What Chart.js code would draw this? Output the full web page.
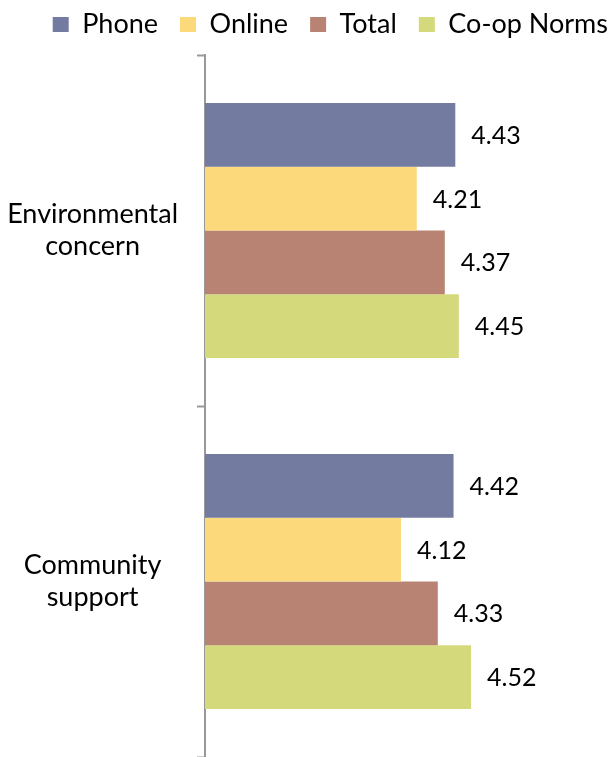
<!DOCTYPE html>
<html>
<head>
<meta charset="utf-8">
<script src="https://cdn.jsdelivr.net/npm/chart.js@4"></script>
<style>
  html, body { margin: 0; padding: 0; background: #fff; overflow: hidden; }
  #wrap { width: 613px; height: 757px; }
</style>
</head>
<body>
<div id="wrap"><canvas id="myChart"></canvas></div>
<script>
const categories = [['Environmental', 'concern'], ['Community', 'support']];
const seriesNames = ['Phone', 'Online', 'Total', 'Co-op Norms'];
const phone = [4.43, 4.42];
const online = [4.21, 4.12];
const total = [4.37, 4.33];
const coopNorms = [4.45, 4.52];
const colors = ['#737ba1', '#fcd97b', '#b88372', '#d4da7b'];

const fontFamily = '"Gill Sans", "Gill Sans MT", Lato, sans-serif';

// writes the value just past the end of each bar
const valueLabels = {
    id: 'valueLabels',
    afterDatasetsDraw(chart) {
        const ctx = chart.ctx;
        ctx.save();
        ctx.font = '25px ' + fontFamily;
        ctx.fillStyle = '#000';
        ctx.textBaseline = 'middle';
        ctx.textAlign = 'left';
        chart.data.datasets.forEach((ds, i) => {
            chart.getDatasetMeta(i).data.forEach((bar, j) => {
                ctx.fillText(ds.data[j].toFixed(2), bar.x + 16, bar.y + 1);
            });
        });
        ctx.restore();
    }
};

// nudge the legend closer to the top edge
const legendShift = {
    id: 'legendShift',
    afterLayout(chart) {
        chart.legend.top -= 7;
        chart.legend.bottom -= 7;
    }
};

const ctx = document.getElementById('myChart');
new Chart(ctx, {
    type: 'bar',
    data: {
        labels: categories,
        datasets: [phone, online, total, coopNorms].map((d, i) => ({
            label: seriesNames[i],
            data: d,
            backgroundColor: colors[i],
            borderWidth: 0
        }))
    },
    options: {
        indexAxis: 'y',
        responsive: true,
        maintainAspectRatio: false,
        animation: false,
        categoryPercentage: 0.727,
        barPercentage: 1,
        layout: { padding: { top: -12, right: -17, bottom: -3, left: 0 } },
        plugins: {
            legend: {
                position: 'top',
                align: 'end',
                labels: {
                    boxWidth: 16,
                    boxHeight: 15,
                    padding: 22,
                    color: '#000',
                    font: { family: fontFamily, size: 27 }
                }
            },
            tooltip: { enabled: false }
        },
        scales: {
            x: {
                display: false,
                min: 3,
                max: 5.331
            },
            y: {
                afterFit(scale) {
                    scale.width = 205;
                    scale.paddingTop = 55;
                    scale.paddingBottom = 0;
                },
                grid: {
                    offset: true,
                    drawOnChartArea: false,
                    tickLength: 8,
                    tickWidth: 2,
                    tickColor: '#999'
                },
                border: { color: '#999', width: 2 },
                ticks: {
                    crossAlign: 'center',
                    padding: 19,
                    color: '#000',
                    font: { family: fontFamily, size: 27, lineHeight: 1.2 }
                }
            }
        }
    },
    plugins: [valueLabels, legendShift]
});
</script>
</body>
</html>
